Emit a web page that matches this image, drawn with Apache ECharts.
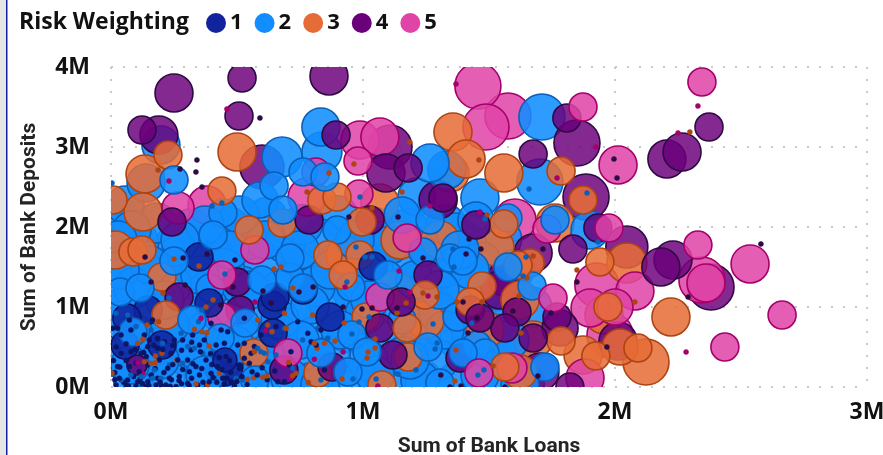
<!DOCTYPE html>
<html><head><meta charset="utf-8">
<style>html,body{margin:0;padding:0;background:#fff}#c{width:883px;height:455px}</style>
<script src="https://cdn.jsdelivr.net/npm/echarts@6/dist/echarts.min.js"></script>
</head><body><div id="c"></div>
<script>
// rows: [sum of loans (k), sum of deposits (k), bubble measure]
const riskLabels = ['1','2','3','4','5'];
const xTicks = ['0M','1M','2M','3M'];
const yTicks = ['0M','1M','2M','3M','4M'];
const risk1Big = [[349,1625,28],[389,1050,28],[651,1125,28],[1040,1513,28],[643,675,28],[63,863,28],[147,963,28],[202,525,28],[452,338,24],[869,875,28],[762,1213,28],[639,1025,28],[56,525,28],[171,400,46],[448,250,38]];
const risk1Small = [[7,734],[40,650],[79,713],[132,650],[152,588],[185,609],[212,567],[251,588],[284,588],[324,650],[351,525],[318,463],[238,421],[185,484],[146,505],[119,421],[79,442],[40,421],[26,255],[73,255],[112,192],[146,275],[192,338],[225,234],[265,338],[304,338],[337,255],[377,338],[397,171],[351,150],[311,192],[271,130],[232,109],[185,109],[146,67],[106,67],[66,88],[33,109],[20,25],[60,25],[99,13],[139,5],[179,25],[218,25],[258,5],[304,46],[344,25],[390,67],[443,109],[476,67],[423,255],[456,380],[417,525],[450,546],[529,859],[463,692],[437,713],[397,796],[165,838],[73,838],[26,734],[556,421],[529,359],[549,296],[509,275],[569,505],[741,817],[714,442],[794,567],[833,713],[781,671],[655,755],[595,650],[688,67],[662,67],[708,275],[847,213],[814,525],[529,546],[503,525],[370,588],
[15,180],[50,60],[90,130],[125,45],[160,150],[195,60],[240,90],[280,40],[320,110],[365,60],[405,120],[450,40],[490,20],[520,130],[60,330],[100,300],[140,380],[175,230],[210,180],[245,280],[285,220],[325,290],[360,230],[400,280],[440,220],[475,180],[510,230],[95,470],[130,430],[170,520],[205,470],[245,520],[280,460],[320,560],[355,440],[395,420],[430,370],[470,330],[20,500],[60,540],[10,330],[35,250],[15,90],[70,10],[115,100],[150,20],[200,15],[235,10],[270,80],[310,20],[380,15],[420,60],[460,110],[500,70],[540,30],[580,150],[620,90],[650,200],[600,240],[560,190]];
const risk2Fill = [[40,2100,40],[180,2050,40],[320,1980,40],[470,2000,40],[620,2120,40],[760,2030,40],[900,2140,40],[1040,2000,40],[1180,1980,40],[1330,2030,40],[110,1810,40],[250,1760,40],[390,1790,40],[540,1840,40],[690,1800,40],[830,1850,40],[970,1700,40],[1120,1820,40],[1260,1760,40],[1410,1800,40],[1550,1850,40],[30,1560,40],[170,1500,40],[310,1540,40],[450,1480,40],[600,1560,40],[750,1500,40],[890,1540,40],[1040,1470,40],[1180,1540,40],[1320,1490,40],[1470,1560,40],[1600,1470,40],[90,1240,40],[240,1280,40],[380,1190,40],[520,1260,40],[670,1200,40],[810,1260,40],[960,1190,40],[1100,1240,40],[1250,1200,40],[1390,1260,40],[1530,1200,40],[1670,1000,40],[20,960,40],[160,930,40],[300,990,40],[440,920,40],[590,980,40],[730,930,40],[870,990,40],[1010,920,40],[1150,980,40],[1300,930,40],[1430,700,40],[1560,930,40],[90,660,40],[230,620,40],[370,680,40],[510,630,40],[660,670,40],[800,620,40],[940,680,40],[1090,620,40],[1230,670,40],[1370,620,40],[1510,680,40],[20,380,40],[160,340,40],[300,390,40],[440,330,40],[590,380,40],[730,340,40],[870,390,40],[1020,330,40],[1160,380,40],[1300,340,40],[1440,390,40],[1590,340,40],[90,90,40],[230,60,40],[370,100,40],[510,50,40],[660,100,40],[800,60,40],[940,100,40],[1090,50,40],[1230,100,40],[1370,60,40],[1510,90,40],[1640,60,40]];
const risk2Back = [[56,2275,38],[28,1838,38],[155,1525,38],[274,1838,38],[373,2025,38],[512,2150,38],[36,1463,38],[214,1088,38],[353,1400,38],[472,1713,38],[611,1838,38],[750,1713,38],[869,1463,38],[790,1025,38],[671,838,38],[552,1213,38],[968,1838,38],[1107,1775,38],[1206,1338,38],[1028,1088,38],[909,713,38],[750,588,38],[611,400,38],[492,525,38],[333,463,38],[194,338,38],[75,275,38],[36,838,38],[234,775,38],[373,150,38],[710,113,38],[829,25,38],[1048,150,38],[1186,338,38],[1325,713,38],[1305,1213,38],[1425,1463,38],[1524,1213,38],[1583,588,38],[1464,150,38],[1226,88,38],[1623,25,38],[1385,1713,38]];
const risk2Big = [[198,3025,38],[139,2550,38],[250,2588,28],[679,2875,40],[833,3250,38],[837,2938,40],[762,2688,28],[849,2625,28],[1266,2800,38],[1333,2713,38],[591,2338,36],[647,2513,28],[682,2213,28],[444,2175,28],[83,1963,38],[897,1963,28],[1155,2150,36],[1266,2088,28],[1214,2375,38],[250,1575,28],[405,1900,28],[393,1238,28],[599,1338,28],[710,1375,28],[762,1238,28],[710,1613,28],[1099,1400,28],[952,1250,28],[1238,1688,28],[956,650,28],[1016,438,28],[1155,838,28],[1258,500,28],[940,188,28],[833,425,28],[532,800,28],[433,613,28],[571,88,28],[321,838,28],[87,688,28],[115,1238,28],[36,1188,28],[1710,3375,46],[1702,2563,46],[1464,2363,38],[1448,2088,36],[1575,2113,28],[1762,2088,28],[1901,1963,38],[1575,1500,28],[1397,1575,28],[1345,1613,28],[1365,1938,38],[1671,1263,28],[1373,875,28],[1722,250,28],[1397,425,28],[1484,425,28],[1452,525,28],[1305,50,28]];
const risk2Small = [[20,921],[66,900],[99,755],[159,713],[205,546],[119,130],[79,150],[165,109],[198,109],[232,275],[284,296],[304,505],[331,484],[278,671],[347,817],[410,109],[496,109],[523,88],[609,421],[595,442],[622,317],[582,484],[655,400],[721,234],[833,88],[820,734],[860,609],[761,588],[688,734],[40,88],[119,25],[172,213],[364,421],[1659,2475],[1889,2425],[1484,2100],[1357,1725],[1361,1500],[1647,1625],[1932,1813],[1635,1388],[4,2550],[440,2300],[401,2263],[988,2375],[452,1413],[936,1313],[972,1750],[361,963],[230,1113],[1008,1625],[1036,1625],[984,813],[1024,875],[1278,788],[1432,800],[956,663],[1294,550],[1286,475],[1456,150],[1480,213],[1052,100],[1139,163],[960,100],[1210,213]];
const risk3Big = [[226,2900,28],[135,2663,38],[8,2338,28],[127,2188,38],[440,2450,28],[500,2938,38],[837,2338,28],[897,2375,28],[679,2050,28],[548,1963,28],[996,2063,28],[1067,2300,38],[1357,3188,38],[87,1688,28],[123,1713,28],[16,1713,38],[202,1375,28],[861,1650,28],[921,1400,28],[988,1650,28],[1012,875,28],[1175,738,28],[1075,25,28],[821,175,28],[567,425,28],[1409,2850,38],[1345,2675,38],[1559,2675,38],[1786,2700,28],[1873,2338,28],[1559,2038,28],[1762,2050,38],[1524,1750,38],[1940,1563,28],[2047,1550,40],[1615,1525,28],[2222,875,38],[2123,313,46],[2091,488,28],[2020,500,36],[1924,388,28],[1972,1000,28],[1956,900,38],[1873,400,38],[1786,575,28],[1675,588,38],[1472,1263,28],[1563,250,28],[1623,188,34],[1425,1063,28],[1246,1150,28],[1179,375,28],[1663,1550,28],[218,900,28],[1305,1838,38],[1484,713,38],[1246,838,38],[1147,1838,38],[1623,1088,38],[1127,1213,38],[929,1650,38]];
const risk3Small = [[106,546],[126,596],[143,775],[189,817],[176,388],[202,421],[132,317],[159,296],[176,304],[261,338],[4,171],[430,171],[542,96],[566,117],[602,121],[618,138],[337,38],[384,25],[331,721],[360,692],[380,680],[582,838],[622,775],[639,692],[695,734],[569,442],[705,309],[721,142],[688,921],[800,900],[807,546],[818,484],[783,55],[847,546],[390,513],[734,171],[1460,2838],[2297,3188],[2079,1063],[1492,2150],[1675,1638],[1849,1463],[187,2713],[778,2438],[865,2675],[964,2788],[1186,3063],[1155,2438],[1036,2238],[250,1600],[349,1513],[647,1475],[675,1500],[722,1238],[206,1175],[1171,1050],[377,1000],[405,1088],[1238,1175],[1294,1125],[1373,1063],[1472,1063],[1619,1138],[1651,1363],[1627,675],[1048,600],[1048,488],[1020,438],[1016,363],[1369,463],[1516,263],[1365,75],[917,100],[889,575],[925,800],[1135,925]];
const risk4Big = [[250,3675,38],[520,3863,28],[865,3888,38],[508,3388,28],[123,3213,28],[190,3150,38],[599,2750,44],[893,3150,28],[1107,3000,44],[1091,2675,38],[1179,2738,28],[1298,2338,38],[786,2088,28],[242,2063,28],[1028,2088,28],[500,1313,28],[270,1125,28],[1151,1063,28],[1258,1400,28],[1119,400,28],[1067,738,28],[877,250,28],[686,213,28],[512,963,28],[103,275,20],[1849,3050,46],[1809,3363,28],[1675,2913,28],[1317,2363,28],[2266,2938,38],[2206,2850,38],[2373,3250,28],[1885,2375,46],[1448,2025,28],[1932,1988,28],[2047,1750,42],[1833,1725,28],[1675,1675,38],[2230,1588,38],[2182,1500,38],[2381,1250,46],[2012,575,38],[1821,0,28],[1675,613,28],[1611,938,28],[1770,875,28],[1782,738,36],[1563,738,28],[1425,963,28],[1464,863,28],[1385,363,28],[1702,188,38],[1571,1363,38],[1544,1213,38]];
const risk4Small = [[1996,2850],[2008,2613],[2579,1788],[2290,1125],[1968,500],[1849,1313],[1421,1850],[1468,1725],[1409,1663],[1714,1725],[341,2838],[337,2688],[591,3363],[274,2725],[361,2500],[1139,2125],[944,2125],[286,1613],[135,1625],[381,1663],[492,1588],[484,1250],[746,1188],[802,1250],[159,1313],[294,1275],[1238,1613],[1135,988],[436,1025],[603,1200],[635,1050],[1595,950],[1746,925],[1397,1063],[1452,863],[996,975],[1036,988],[1417,675],[921,1000],[1694,138],[1309,150],[1345,0],[1389,13],[1563,0]];
const risk5Big = [[266,2238,32],[381,2275,38],[988,3088,38],[1067,3125,38],[813,2688,28],[980,2825,28],[778,2375,38],[984,2413,28],[1175,1863,28],[571,1713,28],[440,1400,28],[1067,1125,28],[702,425,28],[440,875,28],[1456,3763,46],[1488,3250,46],[1575,3388,46],[1873,3500,28],[2012,2775,38],[2345,3813,28],[1603,2088,42],[1730,1975,28],[1976,1988,28],[2329,1775,28],[2536,1538,38],[2345,1338,46],[2361,1300,38],[2663,900,28],[2436,500,28],[2079,1200,38],[2000,1000,36],[1901,988,38],[1928,1275,44],[1980,650,46],[1881,113,38],[1754,1113,28],[1591,238,30],[1460,175,28]];
const risk5Small = [[106,304],[357,859],[615,705],[807,346],[714,109],[126,171],[1369,3788],[2329,3513],[2250,3175],[1924,3000],[1770,2613],[2282,438],[1464,2188],[460,3475],[230,2575],[1266,2263],[929,1250],[1143,1450],[571,1063],[1186,1188],[1258,1138],[1059,13],[921,438]];

const fills = ['rgba(18,35,158,0.86)','rgba(17,141,255,0.88)','rgba(230,108,55,0.86)','rgba(107,0,123,0.84)','rgba(224,68,167,0.86)'];
const solid = ['#12239E','#118DFF','#E66C37','#6B007B','#E044A7'];
const edges = ['#0b1668','#0a5fb8','#ad4512','#2e0a45','#a5006b'];
const dotSize = 5;
const groups = [[...risk1Big,...risk1Small],[...risk2Fill,...risk2Back,...risk2Big,...risk2Small],[...risk3Big,...risk3Small],[...risk4Big,...risk4Small],[...risk5Big,...risk5Small]];
const merged = [];
groups.forEach((rows,i)=>rows.forEach(r=>merged.push([r[0]/1000,r[1]/1000,r[2]||dotSize,i])));
merged.sort((a,b)=>b[2]-a[2] || ((a[0]*1000+a[1]*1000)%97)-((b[0]*1000+b[1]*1000)%97));

const font = 'Roboto, "Open Sans", sans-serif';
const chart = echarts.init(document.getElementById('c'),null,{renderer:'canvas'});
chart.setOption({
 animation:false,
 title:{text:'Risk Weighting',left:14,top:6,textStyle:{fontFamily:'"Open Sans"',fontWeight:700,fontSize:23,color:'#111'}},
 legend:{left:201,top:7,icon:'circle',itemWidth:20,itemHeight:20,itemGap:12,selectedMode:false,
   textStyle:{fontFamily:'"Open Sans"',fontWeight:700,fontSize:22,color:'#111',padding:[0,0,0,-1]},data:riskLabels},
 grid:{left:111,right:16,top:67,bottom:68,outerBoundsMode:'none'},
 xAxis:{type:'value',min:0,max:3,interval:1,name:'Sum of Bank Loans',nameLocation:'middle',nameGap:49,
   nameTextStyle:{fontFamily:font,fontWeight:700,fontSize:21,color:'#252423'},
   axisLine:{show:false},axisTick:{show:false},
   axisLabel:{margin:14,fontFamily:'"Open Sans"',fontWeight:700,fontSize:23,color:'#111',formatter:(v)=>xTicks[v]},
   splitLine:{show:true,lineStyle:{color:'#c9c9c9',width:2,type:[2,10]}}},
 yAxis:{type:'value',min:0,max:4,interval:1,name:'Sum of Bank Deposits',nameLocation:'middle',nameGap:71,
   nameTextStyle:{fontFamily:font,fontWeight:700,fontSize:21,color:'#252423'},
   axisLine:{show:false},axisTick:{show:false},
   axisLabel:{margin:21,fontFamily:'"Open Sans"',fontWeight:700,fontSize:23,color:'#111',formatter:(v)=>yTicks[v]},
   splitLine:{show:true,lineStyle:{color:'#c9c9c9',width:2,type:[2,10]}}},
 graphic:[{type:'rect',left:0,top:0,shape:{width:6,height:455},style:{fill:'#e6e6e6'}},
          {type:'rect',left:6,top:0,shape:{width:1.5,height:455},style:{fill:'#12239E'}}],
 series:[
  ...riskLabels.map((n,i)=>({name:n,type:'scatter',data:[],itemStyle:{color:solid[i],opacity:1}})),
  {type:'custom',name:'points',clip:true,silent:true,coordinateSystem:'cartesian2d',data:merged,
   encode:{x:0,y:1},
   renderItem:(params,api)=>{
     const c=api.coord([api.value(0),api.value(1)]);
     const d=api.value(2), k=api.value(3), small=d<=dotSize;
     return {type:'circle',shape:{cx:c[0],cy:c[1],r:d/2},
       style:{fill:small?edges[k]:fills[k],stroke:edges[k],lineWidth:small?0.5:1.6}};
   }}
 ]
});
</script></body></html>
